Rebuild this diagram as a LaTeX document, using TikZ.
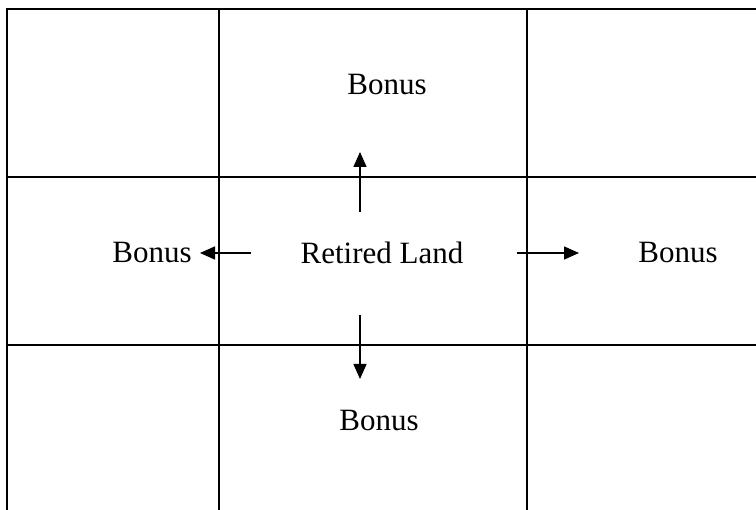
\documentclass[tikz,border=0pt]{standalone}
\usepackage{fontspec}
\setmainfont{Liberation Serif}
\usetikzlibrary{arrows.meta}
\begin{document}
\begin{tikzpicture}[x=1pt,y=-1pt,
  gridline/.style={line width=1.3pt,black},
  lbl/.style={font=\fontsize{31}{35}\selectfont,inner sep=0pt,anchor=center},
  arr/.style={line width=1.6pt,-{Triangle[length=15pt,width=13pt]}}]
\useasboundingbox (0,0) rectangle (756,510);
% grid
\draw[gridline] (756,9) -- (7,9) -- (7,510);
\draw[gridline] (7,177) -- (756,177);
\draw[gridline] (7,345) -- (756,345);
\draw[gridline] (219,9) -- (219,510);
\draw[gridline] (527,9) -- (527,510);
% labels
\node[lbl] (top) at (387,85) {Bonus};
\node[lbl] (left) at (152,253) {Bonus};
\node[lbl] (center) at (382,253) {Retired Land};
\node[lbl] (right) at (678,253) {Bonus};
\node[lbl] (bottom) at (379,421) {Bonus};
% arrow endpoints
\coordinate (us) at (360,212); \coordinate (ue) at (360,152);
\coordinate (ls) at (251,253); \coordinate (le) at (200,253);
\coordinate (rs) at (517,253); \coordinate (re) at (579,253);
\coordinate (ds) at (360,315); \coordinate (de) at (360,379);
\draw[arr] (us) -- (ue);
\draw[arr] (ls) -- (le);
\draw[arr] (rs) -- (re);
\draw[arr] (ds) -- (de);
\end{tikzpicture}
\end{document}
